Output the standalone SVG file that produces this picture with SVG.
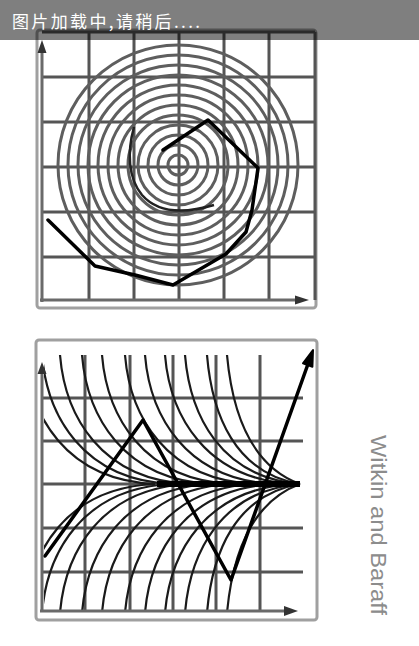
<svg xmlns="http://www.w3.org/2000/svg" xmlns:xlink="http://www.w3.org/1999/xlink" width="419" height="646" viewBox="0 0 419 646">
<style>
.frame{fill:none;stroke:#a0a0a0;stroke-width:3}
.axis{stroke:#6a6a6a;stroke-width:3;fill:none}
.grid{stroke:#555;stroke-width:3;fill:none}
.ring{stroke:#5e5e5e;stroke-width:3;fill:none}
.field{stroke:#1a1a1a;stroke-width:2.2;fill:none}
.path{stroke:#000;stroke-width:3.5;fill:none;stroke-linejoin:round;stroke-linecap:round}
.ah{fill:#333}
</style>
<defs>
<clipPath id="clipB"><rect x="44" y="342" width="259" height="269"/></clipPath>
<path id="fc" d="M0,355 c5,60 40,125 130,129"/>
</defs>
<rect width="419" height="646" fill="#fff"/>

<g id="top-panel">
<rect class="frame" x="37" y="30" width="279" height="278" rx="3"/>
<g class="grid">
<path d="M89,32V300M134,32V300M179,32V300M224,32V300M269,32V300"/>
<path d="M42,77H315M42,122H315M42,167H315M42,212H315M42,257H315"/>
<path d="M42,32H315M315,32V300"/>
</g>
<g class="ring">
<circle cx="178" cy="165" r="10"/><circle cx="178" cy="165" r="20"/><circle cx="178" cy="165" r="30"/>
<circle cx="178" cy="165" r="40"/><circle cx="178" cy="165" r="50"/><circle cx="178" cy="165" r="60"/>
<circle cx="178" cy="165" r="70"/><circle cx="178" cy="165" r="80"/><circle cx="178" cy="165" r="90"/>
<circle cx="178" cy="165" r="100"/><circle cx="178" cy="165" r="110"/><circle cx="178" cy="165" r="120"/>
</g>
<path d="M134,127 C127,152 128,178 142,195 C156,211 180,215 214,205" stroke="#222" stroke-width="2.5" fill="none"/>
<polyline class="path" points="163,150 208,120 258,168 252,210 246,232 226,254 173,285 135,275 95,266 48,220"/>
<path class="axis" d="M42,302V50M40,300H298"/>
<polygon class="ah" points="42,40 37.5,53 46.5,53"/>
<polygon class="ah" points="309,300 295,295.5 295,304.5"/>
</g>

<g id="bottom-panel">
<rect class="frame" x="36" y="340" width="281" height="280" rx="3"/>
<g class="grid">
<path d="M85,355V611M130,355V611M173,355V611M216,355V611M260,355V611"/>
<path d="M42,398H303M42,441H303M42,484H160M42,528H303M42,572H303"/>
</g>
<g clip-path="url(#clipB)">
<g id="field-top">
<use xlink:href="#fc" class="field" x="25"/>
<use xlink:href="#fc" class="field" x="42"/>
<use xlink:href="#fc" class="field" x="60"/>
<use xlink:href="#fc" class="field" x="82"/>
<use xlink:href="#fc" class="field" x="102"/>
<use xlink:href="#fc" class="field" x="125"/>
<use xlink:href="#fc" class="field" x="145"/>
<use xlink:href="#fc" class="field" x="165"/>
<path class="field" d="M185,355 c5,60 35,122 115,129"/>
<path class="field" d="M207,355 c5,60 28,118 93,129"/>
<path class="field" d="M227,355 c5,55 22,110 73,129"/>
</g>
<use xlink:href="#field-top" transform="matrix(1,0,0,-1,0,968)"/>
</g>
<path d="M157,484H300" stroke="#000" stroke-width="6"/>
<path class="path" d="M45,556 L143,420 L231,580 L308,364"/>
<polygon points="313,350 312.4,366.8 303,363.4" fill="#000" stroke="#000" stroke-width="2" stroke-linejoin="round"/>
<path class="axis" d="M42,612V372M40,611H287"/>
<polygon class="ah" points="42,362 37.5,374 46.5,374"/>
<polygon class="ah" points="298,611 284,606 284,616"/>
</g>

<g id="credit">
<text transform="translate(371,435) rotate(90)" font-family="Liberation Sans, Arial, sans-serif" font-size="22" fill="#8c8c8c" textLength="180" lengthAdjust="spacingAndGlyphs">Witkin and Baraff</text>
</g>

<g id="banner">
<rect x="0" y="0" width="419" height="40" fill="#000" fill-opacity="0.5"/>
<text x="12" y="28" font-family="Noto Sans CJK SC, sans-serif" font-size="17" fill="#fff" textLength="188">图片加载中,请稍后....</text>
</g>
</svg>
